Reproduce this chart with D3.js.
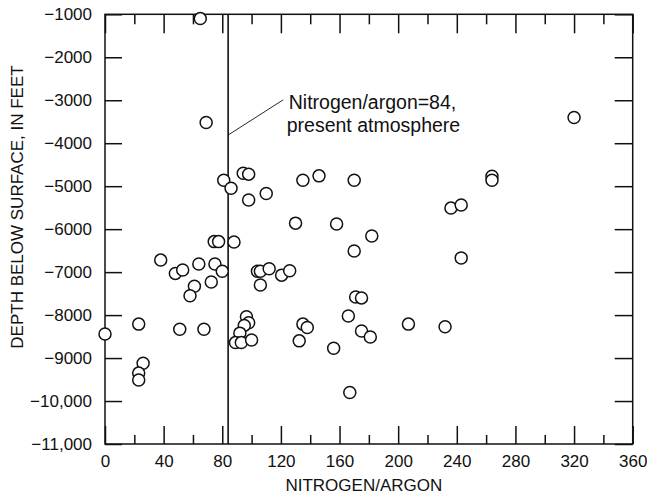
<!DOCTYPE html>
<html>
<head>
<meta charset="utf-8">
<script src="https://cdn.jsdelivr.net/npm/d3@7"></script>
<style>
  html, body { margin: 0; padding: 0; background: #fff; }
  svg { display: block; }
  text { font-family: "Liberation Sans", Arial, Helvetica, sans-serif; fill: #111; }
</style>
</head>
<body>
<svg id="chart" width="647" height="494"></svg>
<script>
// ---- data ----
const nitrogenArgon = [
  65, 69, 81, 86, 94.3, 98, 98, 110, 135, 146, 170, 130, 158, 320, 264, 264,
  236, 243, 182, 170, 243, 171, 175, 166, 175, 181, 207, 232, 167,
  0, 23, 26, 23, 23, 38, 48, 53, 61, 58, 64, 51, 67.5, 72.5, 75, 74.5, 77.5,
  80, 88, 96.5, 98, 95, 92, 89, 93, 100, 104, 106, 112, 106, 120.5, 126,
  135, 138, 132.5, 156
];
const depthFeet = [
  -1100, -3520, -4860, -5050, -4700, -4720, -5320, -5170, -4860, -4760, -4860, -5860, -5880, -3400, -4770, -4860,
  -5510, -5440, -6160, -6510, -6670, -7580, -7600, -8020, -8370, -8510, -8210, -8270, -9800,
  -8440, -8210, -9120, -9350, -9510, -6720, -7030, -6950, -7330, -7550, -6810, -8330, -8330, -7230, -6810, -6290, -6290,
  -6980, -6300, -8040, -8180, -8240, -8420, -8640, -8640, -8580, -6980, -6980, -6920, -7300, -7070, -6970,
  -8210, -8290, -8600, -8770
];
const xMajorTicks = [0, 40, 80, 120, 160, 200, 240, 280, 320, 360];
const xMinorTicks = [20, 60, 100, 140, 180, 220, 260, 300, 340];
const yTicks = [-11000, -10000, -9000, -8000, -7000, -6000, -5000, -4000, -3000, -2000, -1000];
const atmosphereRatio = 84;
const annotationLines = ["Nitrogen/argon=84,", "present atmosphere"];
const leaderFrom = [84, -3810];
const leaderTo = [121.6, -2990];
const xTitle = "NITROGEN/ARGON";
const yTitle = "DEPTH BELOW SURFACE, IN FEET";

// ---- layout ----
const svg = d3.select("#chart");
const L = 105, R = 632.7, T = 14.3, B = 444;
const x = d3.scaleLinear().domain([0, 360]).range([L, R]);
const y = d3.scaleLinear().domain([-11000, -1000]).range([B, T]);
const ink = "#111";

const fmt = d => {
  const a = Math.abs(d);
  return (d < 0 ? "\u2212" : "") + (a >= 10000 ? d3.format(",")(a) : String(a));
};

function styleAxis(g) {
  g.select(".domain").remove();
  g.selectAll("line").attr("stroke", ink).attr("stroke-width", 1.5);
  g.selectAll("text").attr("font-size", 17).attr("fill", ink)
    .attr("font-family", "'Liberation Sans', Arial, sans-serif");
}

// bottom axis
svg.append("g").attr("transform", `translate(0,${B})`)
  .call(d3.axisBottom(x).tickValues(xMajorTicks).tickSize(-18).tickPadding(11).tickFormat(d3.format("d")))
  .call(styleAxis);
svg.append("g").attr("transform", `translate(0,${B})`)
  .call(d3.axisBottom(x).tickValues(xMinorTicks).tickSize(-9).tickFormat(""))
  .call(styleAxis);
// top axis
svg.append("g").attr("transform", `translate(0,${T})`)
  .call(d3.axisTop(x).tickValues(xMajorTicks).tickSize(-19).tickFormat(""))
  .call(styleAxis);
svg.append("g").attr("transform", `translate(0,${T})`)
  .call(d3.axisTop(x).tickValues(xMinorTicks).tickSize(-10).tickFormat(""))
  .call(styleAxis);
// left axis
svg.append("g").attr("transform", `translate(${L},0)`)
  .call(d3.axisLeft(y).tickValues(yTicks).tickSize(-17).tickPadding(13).tickFormat(fmt))
  .call(styleAxis);
// right axis
svg.append("g").attr("transform", `translate(${R},0)`)
  .call(d3.axisRight(y).tickValues(yTicks).tickSize(-18).tickFormat(""))
  .call(styleAxis);

// frame
svg.append("rect")
  .attr("x", L).attr("y", T).attr("width", R - L).attr("height", B - T)
  .attr("fill", "none").attr("stroke", ink).attr("stroke-width", 1.5);

// present atmosphere line
svg.append("line")
  .attr("x1", x(atmosphereRatio)).attr("x2", x(atmosphereRatio))
  .attr("y1", y(-1000)).attr("y2", y(-11000))
  .attr("stroke", ink).attr("stroke-width", 1.6);

// leader line + annotation
svg.append("line")
  .attr("x1", x(leaderFrom[0])).attr("y1", y(leaderFrom[1]))
  .attr("x2", x(leaderTo[0])).attr("y2", y(leaderTo[1]))
  .attr("stroke", ink).attr("stroke-width", 0.9);
svg.append("text")
  .attr("x", x(leaderTo[0]) + 5).attr("y", 109)
  .attr("font-size", 19.5)
  .selectAll("tspan").data(annotationLines).join("tspan")
  .attr("x", (d, i) => x(leaderTo[0]) + (i === 0 ? 5.5 : 3.5))
  .attr("dy", (d, i) => i === 0 ? 0 : 22.5)
  .text(d => d);

// points
const pts = nitrogenArgon.map((v, i) => ({ n: v, d: depthFeet[i] }));
svg.append("g").selectAll("circle").data(pts).join("circle")
  .attr("cx", p => x(p.n)).attr("cy", p => y(p.d)).attr("r", 6)
  .attr("fill", "#fff").attr("stroke", ink).attr("stroke-width", 1.5);

// axis titles
svg.append("text")
  .attr("x", (L + R) / 2 - 5).attr("y", 491)
  .attr("text-anchor", "middle").attr("font-size", 17)
  .text(xTitle);
svg.append("text")
  .attr("transform", "translate(23,207) rotate(-90)")
  .attr("text-anchor", "middle").attr("font-size", 17)
  .text(yTitle);
</script>
</body>
</html>
